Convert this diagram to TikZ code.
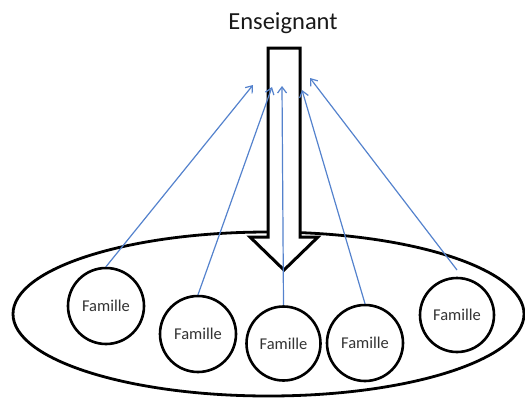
\documentclass[tikz,border=0pt]{standalone}
\usepackage{fontspec}
\setmainfont{Carlito}
\usetikzlibrary{arrows.meta}
\definecolor{linkblue}{RGB}{84,130,205}
\begin{document}
\begin{tikzpicture}[x=1pt,y=-1pt,
  famille/.style={circle,draw=black,line width=2.6pt,fill=white,minimum size=76pt,inner sep=0pt,
    font=\fontsize{16.5}{18}\selectfont,text=black!80},
  link/.style={draw=linkblue,line width=1.2pt,-{Straight Barb[length=6pt,width=9pt,line width=1.2pt]}},
  outline/.style={draw=black,line width=3pt}]
\useasboundingbox (0,0) rectangle (525,399);

% group boundary
\draw[outline,line width=2.8pt] (268.5,314) ellipse [x radius=255.5, y radius=82];

% downward block arrow
\draw[outline,fill=white,line join=miter] (268,48) -- (300,48) -- (300,237) -- (318,237) -- (284,270)
  -- (250,237) -- (268,237) -- cycle;

\node[font=\fontsize{24.5}{28}\selectfont,text=black!90] (ens) at (283,23) {Enseignant};

% families
\node[famille] (c1) at (106,306) {Famille};
\node[famille] (c2) at (198,334) {Famille};
\node[famille,minimum size=74pt] (c3) at (283.5,343.5) {Famille};
\node[famille] (c4) at (365,343) {Famille};
\node[famille,minimum size=74pt] (c5) at (457,315) {Famille};

% arrow targets beside the shaft
\coordinate (t1) at (253,85);
\coordinate (t2) at (272,87);
\coordinate (t3) at (282,86);
\coordinate (t4) at (302,90);
\coordinate (t5) at (310,78);
\coordinate (s5) at (457,270);

\draw[link] (c1.north) -- (t1);
\draw[link] (c2.north) -- (t2);
\draw[link] (c3.north) -- (t3);
\draw[link] (c4.north) -- (t4);
\draw[link] (s5) -- (t5);
\end{tikzpicture}
\end{document}
